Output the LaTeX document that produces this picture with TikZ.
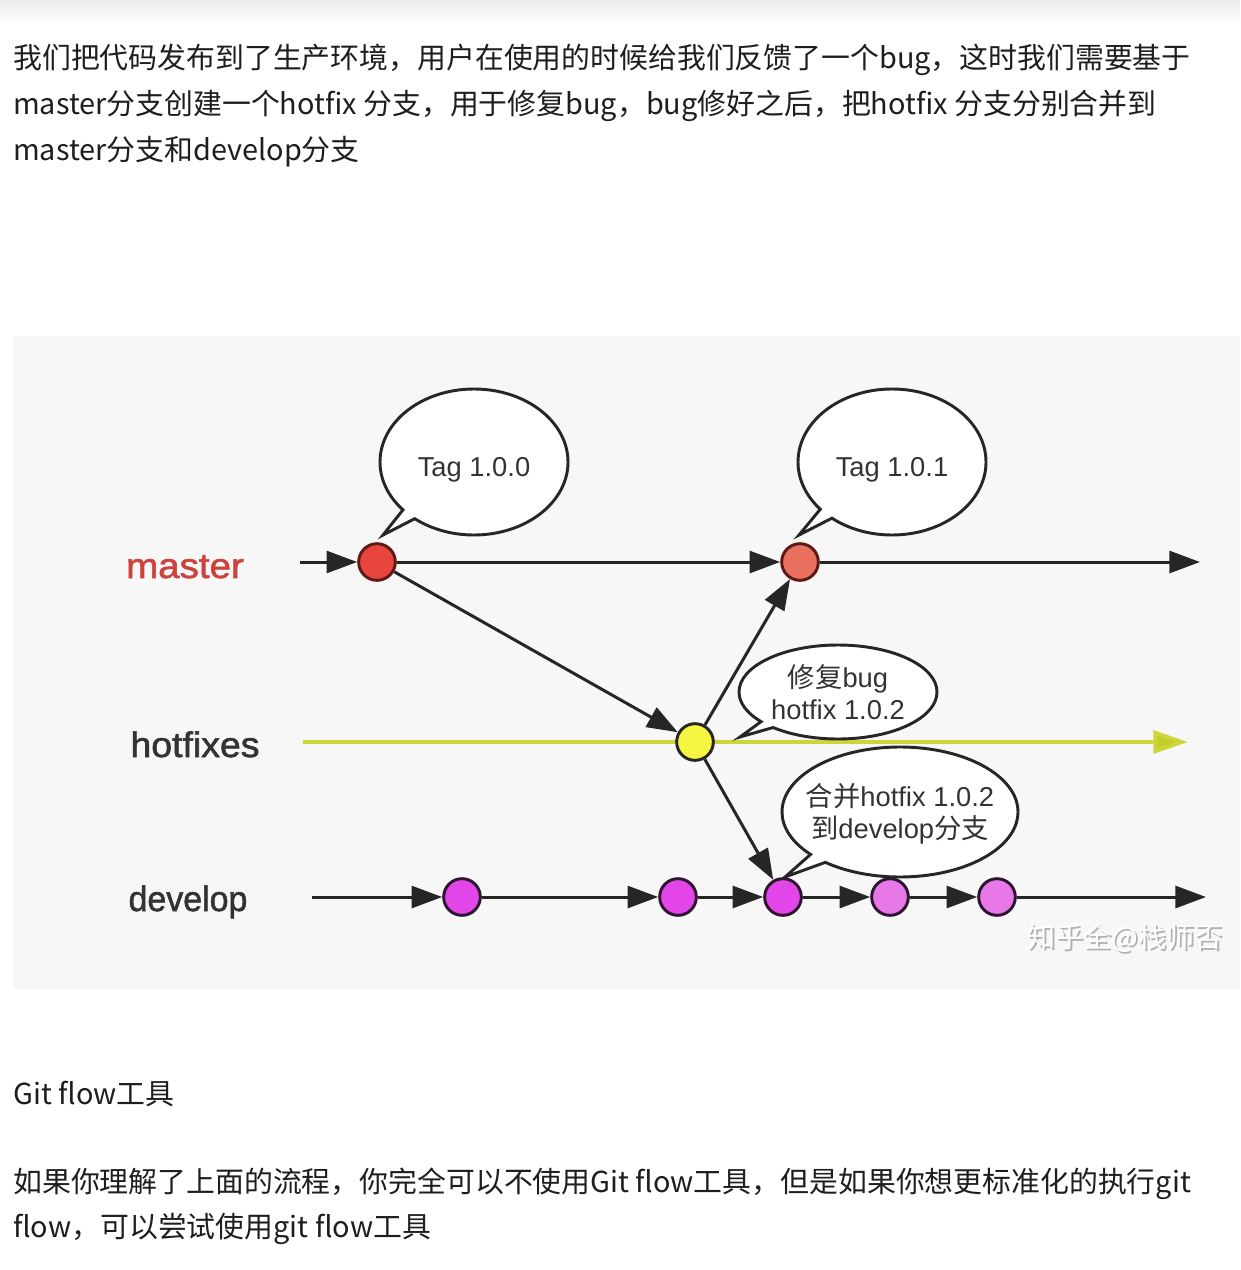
\documentclass[tikz,border=0pt]{standalone}
\usepackage{fontspec}
\setmainfont{Liberation Sans}
\newfontfamily\cjk{Noto Sans CJK SC}
\newfontfamily\lblfont[BoldFont=Liberation Sans, BoldFeatures={FakeBold=1.6}]{Liberation Sans}
\usetikzlibrary{arrows.meta,shapes.callouts,shapes.geometric}
\pgfdeclarelayer{bottom}
\pgfdeclarelayer{background}
\pgfsetlayers{bottom,background,main}
\definecolor{diagbg}{HTML}{F7F7F7}
\definecolor{txt}{HTML}{1E1E1E}
\definecolor{lbltxt}{HTML}{333333}
\definecolor{masterred}{HTML}{CC433E}
\definecolor{linec}{HTML}{262626}
\definecolor{hotline}{HTML}{CCD53A}
\definecolor{hotarrow}{HTML}{C4CC2C}
\definecolor{mfillA}{HTML}{E8453C}
\definecolor{mfillB}{HTML}{E8705F}
\definecolor{mline}{HTML}{5E1A16}
\definecolor{hfill}{HTML}{F5F542}
\definecolor{dfillA}{HTML}{E246E8}
\definecolor{dfillB}{HTML}{E878E8}
\definecolor{dline}{HTML}{2D1530}
\newcommand\lowered[2]{\raisebox{-#1}[\height][\depth]{#2}}
\begin{document}
\begin{tikzpicture}[x=0.75pt,y=-0.75pt,
  para/.style={inner sep=0pt, anchor=base west, text=txt, font=\cjk\fontsize{21.65pt}{26pt}\selectfont},
  lbl/.style={inner sep=0pt, anchor=base, text=lbltxt, font=\lblfont\bfseries\fontsize{26.5pt}{32pt}\selectfont},
  commit/.style={circle, inner sep=0pt, minimum size=27.5pt, line width=2.2pt},
  conn/.style={draw=linec, line width=2.25pt, -{Triangle[length=23pt,width=16.5pt]}},
  bubble/.style={ellipse callout, draw=linec, fill=white, line width=2.2pt, inner sep=-40pt,
     callout pointer arc=10, text=lbltxt, align=center,
     font=\fontsize{20.5pt}{24.5pt}\selectfont},
  wmark/.style={inner sep=0pt, font=\cjk\fontsize{21pt}{26pt}\selectfont}
]
\useasboundingbox (0,0) rectangle (1240,1270);
\begin{pgfonlayer}{bottom}
\fill[white] (0,0) rectangle (1240,1270);
\shade[top color=black!8, bottom color=white] (0,0) rectangle (1240,24);
\fill[diagbg] (13,336) rectangle (1240,989);
\end{pgfonlayer}

% paragraph text
\node[para] (p1) at (13,69) {我们把代码发布到了生产环境，用户在使用的时候给我们反馈了一个bug，这时我们需要基于};
\node[para] (p2) at (13,114) {master分支创建一个hotfix 分支，用于修复bug，bug修好之后，把hotfix 分支分别合并到};
\node[para] (p3) at (13,160) {master分支和develop分支};
\node[para] (p4) at (13,1104) {Git flow工具};
\node[para] (p5) at (13,1192) {如果你理解了上面的流程，你完全可以不使用Git flow工具，但是如果你想更标准化的执行git};
\node[para] (p6) at (13,1237) {flow，可以尝试使用git flow工具};

% branch labels
\node[lbl, text=masterred, xscale=1.09] (lm) at (185,578) {master};
\node[lbl, xscale=1.06] (lh) at (195,757) {hotfixes};
\node[lbl, xscale=0.96] (ld) at (188,911) {develop};

% coordinates for free ends
\coordinate (ms) at (300,562);
\coordinate (me) at (1200,562);
\coordinate (hs) at (303,742);
\coordinate (he) at (1188,742);
\coordinate (ds) at (312,897);
\coordinate (de) at (1206,897);

% commits
\node[commit, fill=mfillA, draw=mline] (M1) at (377,562) {};
\node[commit, fill=mfillB, draw=mline] (M2) at (800,562) {};
\node[commit, fill=hfill, draw=linec] (H) at (695,742) {};
\node[commit, fill=dfillA, draw=dline] (D1) at (462,897) {};
\node[commit, fill=dfillA, draw=dline] (D2) at (678,897) {};
\node[commit, fill=dfillA, draw=dline] (D3) at (783,897) {};
\node[commit, fill=dfillB, draw=dline] (D4) at (890,897) {};
\node[commit, fill=dfillB, draw=dline] (D5) at (997,897) {};

% bubbles
\node[bubble, minimum width=141pt, minimum height=109.5pt, callout absolute pointer={(383,535)}] (b1) at (474,462) {\lowered{6pt}{Tag 1.0.0}};
\node[bubble, minimum width=141pt, minimum height=109.5pt, callout absolute pointer={(799,535)}] (b2) at (892,462) {\lowered{6pt}{Tag 1.0.1}};
\node[bubble, minimum width=148.5pt, minimum height=70.5pt, callout absolute pointer={(740,737)}] (b3) at (838,692) {{\cjk 修复}bug\\hotﬁx 1.0.2};
\node[bubble, minimum width=177pt, minimum height=97.5pt, callout absolute pointer={(785,877)}] (b4) at (900,812) {\lowered{3pt}{\begin{tabular}{@{}c@{}}{\cjk 合并}hotﬁx 1.0.2\\[-1pt]{\cjk 到}develop{\cjk 分支}\end{tabular}}};

% watermark
\node[wmark, text=black!30] (wm0) at (1127,940) {知乎全@栈师否};
\node[wmark, text=white] (wm) at (1125,938) {知乎全@栈师否};

% connectors
\begin{pgfonlayer}{background}
\draw[conn] (ms) -- (M1);
\draw[conn] (M1) -- (M2);
\draw[conn] (M2) -- (me);
\draw[draw=hotline, line width=3pt, -{Triangle[length=26pt,width=17pt,fill=hotarrow]}] (hs) -- (he);
\draw[conn] (M1) -- (H);
\draw[conn] (H) -- (M2);
\draw[conn] (H) -- (D3);
\draw[conn] (ds) -- (D1);
\draw[conn] (D1) -- (D2);
\draw[conn] (D2) -- (D3);
\draw[conn] (D3) -- (D4);
\draw[conn] (D4) -- (D5);
\draw[conn] (D5) -- (de);
\end{pgfonlayer}
\end{tikzpicture}
\end{document}
